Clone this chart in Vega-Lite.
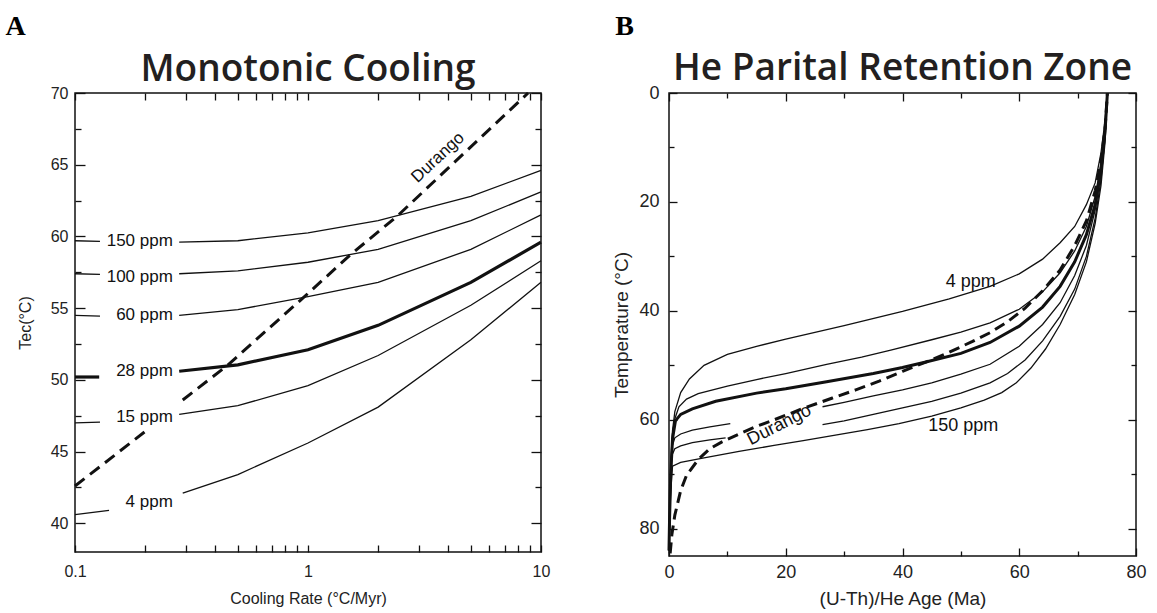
{
  "$schema": "https://vega.github.io/schema/vega-lite/v6.json",
  "padding": {"left": 5, "top": 13, "right": 0, "bottom": 0},
  "background": "white",
  "config": {
    "view": {"stroke": "#111", "strokeWidth": 1.5},
    "font": "Liberation Sans",
    "axis": {"domain": false, "grid": false, "tickColor": "#111", "tickWidth": 1.3, "labelColor": "#222", "titleColor": "#222", "titleFontWeight": "normal", "labelFont": "Liberation Sans", "titleFont": "Liberation Sans", "labelFlush": false, "labelOverlap": false}
  },
  "datasets": {
    "A": [
      {"s":"150 ppm","g":"a","x":0.1,"y":59.7},{"s":"150 ppm","g":"a","x":0.128,"y":59.65},
      {"s":"150 ppm","g":"b","x":0.28,"y":59.6},{"s":"150 ppm","g":"b","x":0.5,"y":59.7},{"s":"150 ppm","g":"b","x":1,"y":60.25},{"s":"150 ppm","g":"b","x":2,"y":61.1},{"s":"150 ppm","g":"b","x":5,"y":62.8},{"s":"150 ppm","g":"b","x":10,"y":64.6},
      {"s":"100 ppm","g":"a","x":0.1,"y":57.4},{"s":"100 ppm","g":"a","x":0.128,"y":57.35},
      {"s":"100 ppm","g":"b","x":0.28,"y":57.4},{"s":"100 ppm","g":"b","x":0.5,"y":57.6},{"s":"100 ppm","g":"b","x":1,"y":58.2},{"s":"100 ppm","g":"b","x":2,"y":59.1},{"s":"100 ppm","g":"b","x":5,"y":61.1},{"s":"100 ppm","g":"b","x":10,"y":63.1},
      {"s":"60 ppm","g":"a","x":0.1,"y":54.5},{"s":"60 ppm","g":"a","x":0.128,"y":54.45},
      {"s":"60 ppm","g":"b","x":0.28,"y":54.5},{"s":"60 ppm","g":"b","x":0.5,"y":54.9},{"s":"60 ppm","g":"b","x":1,"y":55.8},{"s":"60 ppm","g":"b","x":2,"y":56.8},{"s":"60 ppm","g":"b","x":5,"y":59.1},{"s":"60 ppm","g":"b","x":10,"y":61.5},
      {"s":"28 ppm","g":"a","x":0.1,"y":50.2},{"s":"28 ppm","g":"a","x":0.127,"y":50.2},
      {"s":"28 ppm","g":"b","x":0.28,"y":50.6},{"s":"28 ppm","g":"b","x":0.5,"y":51.05},{"s":"28 ppm","g":"b","x":1,"y":52.1},{"s":"28 ppm","g":"b","x":2,"y":53.8},{"s":"28 ppm","g":"b","x":5,"y":56.8},{"s":"28 ppm","g":"b","x":10,"y":59.6},
      {"s":"15 ppm","g":"a","x":0.1,"y":47.0},{"s":"15 ppm","g":"a","x":0.128,"y":47.05},
      {"s":"15 ppm","g":"b","x":0.28,"y":47.6},{"s":"15 ppm","g":"b","x":0.5,"y":48.2},{"s":"15 ppm","g":"b","x":1,"y":49.6},{"s":"15 ppm","g":"b","x":2,"y":51.7},{"s":"15 ppm","g":"b","x":5,"y":55.2},{"s":"15 ppm","g":"b","x":10,"y":58.3},
      {"s":"4 ppm","g":"a","x":0.1,"y":40.6},{"s":"4 ppm","g":"a","x":0.14,"y":40.9},
      {"s":"4 ppm","g":"b","x":0.29,"y":42.1},{"s":"4 ppm","g":"b","x":0.5,"y":43.4},{"s":"4 ppm","g":"b","x":1,"y":45.6},{"s":"4 ppm","g":"b","x":2,"y":48.1},{"s":"4 ppm","g":"b","x":5,"y":52.8},{"s":"4 ppm","g":"b","x":10,"y":56.8},
      {"s":"Durango","g":"a","x":0.1,"y":42.6},{"s":"Durango","g":"a","x":0.2,"y":46.4},
      {"s":"Durango","g":"b","x":0.29,"y":48.6},{"s":"Durango","g":"b","x":0.45,"y":51.0},{"s":"Durango","g":"b","x":0.95,"y":55.7},{"s":"Durango","g":"b","x":1.54,"y":58.8},{"s":"Durango","g":"b","x":2.41,"y":61.4},{"s":"Durango","g":"b","x":8.8,"y":70}
    ],
    "Alab": [
      {"t":"150 ppm","x":0.263,"y":59.7},{"t":"100 ppm","x":0.263,"y":57.2},{"t":"60 ppm","x":0.263,"y":54.5},
      {"t":"28 ppm","x":0.263,"y":50.6},{"t":"15 ppm","x":0.263,"y":47.4},{"t":"4 ppm","x":0.263,"y":41.5}
    ],
    "Adur": [{"t":"Durango","x":3.61,"y":65.5}],
    "B": [
      {"s":"4 ppm","g":"a","x":0,"y":84},{"s":"4 ppm","g":"a","x":0.1,"y":78},{"s":"4 ppm","g":"a","x":0.3,"y":68},{"s":"4 ppm","g":"a","x":0.6,"y":62},{"s":"4 ppm","g":"a","x":1,"y":58.5},{"s":"4 ppm","g":"a","x":2,"y":55},{"s":"4 ppm","g":"a","x":3.5,"y":52.5},{"s":"4 ppm","g":"a","x":6,"y":50},{"s":"4 ppm","g":"a","x":10,"y":48},{"s":"4 ppm","g":"a","x":15,"y":46.5},{"s":"4 ppm","g":"a","x":20,"y":45.2},{"s":"4 ppm","g":"a","x":30,"y":42.7},{"s":"4 ppm","g":"a","x":40,"y":40.1},{"s":"4 ppm","g":"a","x":48,"y":37.8},{"s":"4 ppm","g":"a","x":55,"y":35.5},{"s":"4 ppm","g":"a","x":60,"y":33.2},{"s":"4 ppm","g":"a","x":64,"y":30.5},{"s":"4 ppm","g":"a","x":67,"y":27.5},{"s":"4 ppm","g":"a","x":69.5,"y":24.5},{"s":"4 ppm","g":"a","x":71.5,"y":20.5},{"s":"4 ppm","g":"a","x":73,"y":16.5},{"s":"4 ppm","g":"a","x":74,"y":11},{"s":"4 ppm","g":"a","x":74.6,"y":6},{"s":"4 ppm","g":"a","x":75.1,"y":0},
      {"s":"15 ppm","g":"a","x":0,"y":84},{"s":"15 ppm","g":"a","x":0.1,"y":78},{"s":"15 ppm","g":"a","x":0.3,"y":69},{"s":"15 ppm","g":"a","x":0.6,"y":62.5},{"s":"15 ppm","g":"a","x":1,"y":59.8},{"s":"15 ppm","g":"a","x":1.7,"y":57.6},{"s":"15 ppm","g":"a","x":3,"y":56.2},{"s":"15 ppm","g":"a","x":5,"y":55.2},{"s":"15 ppm","g":"a","x":10,"y":53.8},{"s":"15 ppm","g":"a","x":15,"y":52.6},{"s":"15 ppm","g":"a","x":20,"y":51.5},{"s":"15 ppm","g":"a","x":27,"y":49.8},{"s":"15 ppm","g":"a","x":33,"y":48.5},{"s":"15 ppm","g":"a","x":38,"y":47.2},{"s":"15 ppm","g":"a","x":45,"y":45.3},{"s":"15 ppm","g":"a","x":50,"y":43.9},{"s":"15 ppm","g":"a","x":55,"y":42.2},{"s":"15 ppm","g":"a","x":60,"y":39.7},{"s":"15 ppm","g":"a","x":64,"y":36.5},{"s":"15 ppm","g":"a","x":67,"y":33},{"s":"15 ppm","g":"a","x":69.5,"y":29},{"s":"15 ppm","g":"a","x":71.5,"y":24.5},{"s":"15 ppm","g":"a","x":73,"y":19},{"s":"15 ppm","g":"a","x":74,"y":13},{"s":"15 ppm","g":"a","x":74.7,"y":6.5},{"s":"15 ppm","g":"a","x":75.1,"y":0},
      {"s":"28 ppm","g":"a","x":0,"y":84},{"s":"28 ppm","g":"a","x":0.1,"y":78},{"s":"28 ppm","g":"a","x":0.3,"y":70},{"s":"28 ppm","g":"a","x":0.6,"y":63.5},{"s":"28 ppm","g":"a","x":1.1,"y":60.2},{"s":"28 ppm","g":"a","x":2,"y":59},{"s":"28 ppm","g":"a","x":4,"y":58},{"s":"28 ppm","g":"a","x":8,"y":56.6},{"s":"28 ppm","g":"a","x":15,"y":55.1},{"s":"28 ppm","g":"a","x":20,"y":54.3},{"s":"28 ppm","g":"a","x":27,"y":53},{"s":"28 ppm","g":"a","x":35,"y":51.5},{"s":"28 ppm","g":"a","x":40,"y":50.4},{"s":"28 ppm","g":"a","x":44,"y":49.4},{"s":"28 ppm","g":"a","x":50,"y":47.8},{"s":"28 ppm","g":"a","x":55,"y":45.8},{"s":"28 ppm","g":"a","x":60,"y":42.8},{"s":"28 ppm","g":"a","x":64,"y":39.3},{"s":"28 ppm","g":"a","x":67,"y":35.5},{"s":"28 ppm","g":"a","x":69.5,"y":31},{"s":"28 ppm","g":"a","x":71.5,"y":26},{"s":"28 ppm","g":"a","x":73,"y":20.5},{"s":"28 ppm","g":"a","x":74,"y":14},{"s":"28 ppm","g":"a","x":74.7,"y":7},{"s":"28 ppm","g":"a","x":75.1,"y":0},
      {"s":"60 ppm","g":"a","x":0,"y":84},{"s":"60 ppm","g":"a","x":0.1,"y":78},{"s":"60 ppm","g":"a","x":0.3,"y":70.5},{"s":"60 ppm","g":"a","x":0.5,"y":65},{"s":"60 ppm","g":"a","x":1,"y":63.3},{"s":"60 ppm","g":"a","x":2,"y":62.6},{"s":"60 ppm","g":"a","x":4,"y":61.9},{"s":"60 ppm","g":"a","x":7,"y":61.3},{"s":"60 ppm","g":"a","x":10.5,"y":60.7},
      {"s":"60 ppm","g":"b","x":26.3,"y":57.6},{"s":"60 ppm","g":"b","x":30,"y":56.8},{"s":"60 ppm","g":"b","x":35,"y":55.6},{"s":"60 ppm","g":"b","x":40,"y":54.5},{"s":"60 ppm","g":"b","x":45,"y":53.2},{"s":"60 ppm","g":"b","x":50,"y":51.6},{"s":"60 ppm","g":"b","x":55,"y":49.8},{"s":"60 ppm","g":"b","x":60,"y":46.5},{"s":"60 ppm","g":"b","x":64,"y":42.5},{"s":"60 ppm","g":"b","x":67,"y":38.5},{"s":"60 ppm","g":"b","x":69.5,"y":33.5},{"s":"60 ppm","g":"b","x":71.5,"y":28},{"s":"60 ppm","g":"b","x":73,"y":21.5},{"s":"60 ppm","g":"b","x":74,"y":15},{"s":"60 ppm","g":"b","x":74.7,"y":7.5},{"s":"60 ppm","g":"b","x":75.1,"y":0},
      {"s":"100 ppm","g":"a","x":0,"y":84},{"s":"100 ppm","g":"a","x":0.1,"y":78.5},{"s":"100 ppm","g":"a","x":0.3,"y":72},{"s":"100 ppm","g":"a","x":0.5,"y":66.5},{"s":"100 ppm","g":"a","x":1,"y":65.3},{"s":"100 ppm","g":"a","x":2,"y":64.8},{"s":"100 ppm","g":"a","x":4,"y":64.2},{"s":"100 ppm","g":"a","x":7,"y":63.7},{"s":"100 ppm","g":"a","x":9.7,"y":63.3},
      {"s":"100 ppm","g":"b","x":26.3,"y":60.9},{"s":"100 ppm","g":"b","x":30,"y":60.2},{"s":"100 ppm","g":"b","x":35,"y":59},{"s":"100 ppm","g":"b","x":40,"y":57.8},{"s":"100 ppm","g":"b","x":45,"y":56.6},{"s":"100 ppm","g":"b","x":50,"y":55.1},{"s":"100 ppm","g":"b","x":55,"y":53.2},{"s":"100 ppm","g":"b","x":58,"y":51.5},{"s":"100 ppm","g":"b","x":61,"y":49},{"s":"100 ppm","g":"b","x":64,"y":45.5},{"s":"100 ppm","g":"b","x":67,"y":41},{"s":"100 ppm","g":"b","x":69.5,"y":36},{"s":"100 ppm","g":"b","x":71.5,"y":30},{"s":"100 ppm","g":"b","x":73,"y":23},{"s":"100 ppm","g":"b","x":74,"y":16},{"s":"100 ppm","g":"b","x":74.7,"y":8},{"s":"100 ppm","g":"b","x":75.1,"y":0},
      {"s":"150 ppm","g":"a","x":0,"y":84},{"s":"150 ppm","g":"a","x":0.1,"y":79},{"s":"150 ppm","g":"a","x":0.3,"y":73},{"s":"150 ppm","g":"a","x":0.6,"y":68.5},{"s":"150 ppm","g":"a","x":2,"y":67.8},{"s":"150 ppm","g":"a","x":6,"y":67},{"s":"150 ppm","g":"a","x":12,"y":65.8},{"s":"150 ppm","g":"a","x":18,"y":64.7},{"s":"150 ppm","g":"a","x":23,"y":63.8},{"s":"150 ppm","g":"a","x":29,"y":62.7},{"s":"150 ppm","g":"a","x":34,"y":61.8},{"s":"150 ppm","g":"a","x":39.4,"y":60.7},{"s":"150 ppm","g":"a","x":45,"y":59.3},{"s":"150 ppm","g":"a","x":50,"y":57.8},{"s":"150 ppm","g":"a","x":54,"y":56.4},{"s":"150 ppm","g":"a","x":57,"y":55},{"s":"150 ppm","g":"a","x":59.5,"y":53.2},{"s":"150 ppm","g":"a","x":62,"y":50.5},{"s":"150 ppm","g":"a","x":64.5,"y":47},{"s":"150 ppm","g":"a","x":67,"y":42.5},{"s":"150 ppm","g":"a","x":69.5,"y":37},{"s":"150 ppm","g":"a","x":71.5,"y":31},{"s":"150 ppm","g":"a","x":73,"y":24},{"s":"150 ppm","g":"a","x":74,"y":17},{"s":"150 ppm","g":"a","x":74.7,"y":9},{"s":"150 ppm","g":"a","x":75.1,"y":0},
      {"s":"Durango","g":"a","x":0.2,"y":84.5},{"s":"Durango","g":"a","x":0.5,"y":81},{"s":"Durango","g":"a","x":1,"y":77.5},{"s":"Durango","g":"a","x":2,"y":73},{"s":"Durango","g":"a","x":3,"y":70.2},{"s":"Durango","g":"a","x":5,"y":67.3},{"s":"Durango","g":"a","x":7,"y":65.3},{"s":"Durango","g":"a","x":9,"y":64.1},{"s":"Durango","g":"a","x":12,"y":62.6},{"s":"Durango","g":"a","x":15,"y":61.2},{"s":"Durango","g":"a","x":18,"y":60},{"s":"Durango","g":"a","x":23,"y":57.9},{"s":"Durango","g":"a","x":28,"y":56},{"s":"Durango","g":"a","x":32,"y":54.5},{"s":"Durango","g":"a","x":36,"y":52.9},{"s":"Durango","g":"a","x":40,"y":51.1},{"s":"Durango","g":"a","x":44,"y":49.4},{"s":"Durango","g":"a","x":48,"y":47.6},{"s":"Durango","g":"a","x":52,"y":45.6},{"s":"Durango","g":"a","x":55,"y":44},{"s":"Durango","g":"a","x":58,"y":42},{"s":"Durango","g":"a","x":61,"y":39.5},{"s":"Durango","g":"a","x":64,"y":36.3},{"s":"Durango","g":"a","x":67,"y":32.5},{"s":"Durango","g":"a","x":69.5,"y":28},{"s":"Durango","g":"a","x":71.5,"y":23.5},{"s":"Durango","g":"a","x":73,"y":18},{"s":"Durango","g":"a","x":74,"y":12.5},{"s":"Durango","g":"a","x":74.7,"y":6.5},{"s":"Durango","g":"a","x":75.1,"y":0}
    ],
    "Blab": [{"t":"4 ppm","x":51.7,"y":34.7},{"t":"150 ppm","x":50.4,"y":61.2}],
    "Bdur": [{"t":"Durango","x":18.9,"y":61.0}]
  },
  "spacing": 61,
  "hconcat": [
    {
      "title": {"text": "A", "anchor": "start", "frame": "bounds", "font": "Liberation Serif", "fontSize": 28, "fontWeight": "bold", "color": "#000", "dx": -11, "offset": 9},
      "vconcat": [
        {
          "title": {"text": "Monotonic Cooling", "anchor": "middle", "font": "Open Sans", "fontSize": 37, "fontWeight": 600, "color": "#231f20", "offset": -4},
          "width": 466,
          "height": 459,
          "data": {"name": "A"},
          "resolve": {"axis": {"x": "independent", "y": "independent"}},
          "layer": [
            {
              "transform": [{"filter": "datum.s != '28 ppm' && datum.s != 'Durango'"}],
              "mark": {"type": "line", "stroke": "#111", "strokeWidth": 1.3},
              "encoding": {
                "x": {"field": "x", "type": "quantitative", "scale": {"type": "log", "domain": [0.1, 10]},
                  "axis": {"orient": "bottom", "values": [0.1,0.2,0.3,0.4,0.5,0.6,0.7,0.8,0.9,1,2,3,4,5,6,7,8,9,10], "labelExpr": "datum.value == 0.1 ? '0.1' : (datum.value == 1 ? '1' : (datum.value == 10 ? '10' : ''))", "tickSize": -7, "labelPadding": 18, "labelFontSize": 16, "title": "Cooling Rate (°C/Myr)", "titleFontSize": 16, "titlePadding": 11}},
                "y": {"field": "y", "type": "quantitative", "scale": {"domain": [38, 70], "zero": false, "nice": false},
                  "axis": {"orient": "left", "values": [40,42.5,45,47.5,50,52.5,55,57.5,60,62.5,65,67.5,70], "format": "d", "labelExpr": "datum.value % 5 == 0 ? datum.label : ''", "tickSize": {"condition": {"test": "datum.value % 5 == 0", "value": -10}, "value": -6}, "labelPadding": 17, "labelFontSize": 16, "title": "Tec(°C)", "titleFontSize": 16, "titlePadding": 17}},
                "detail": [{"field": "s"}, {"field": "g"}]
              }
            },
            {
              "transform": [{"filter": "datum.s == 'Durango'"}],
              "mark": {"type": "line", "stroke": "#111", "strokeWidth": 3, "strokeDash": [12, 7]},
              "encoding": {
                "x": {"field": "x", "type": "quantitative", "scale": {"type": "log", "domain": [0.1, 10]},
                  "axis": {"orient": "top", "values": [0.1,0.2,0.3,0.4,0.5,0.6,0.7,0.8,0.9,1,2,3,4,5,6,7,8,9,10], "labels": false, "tickSize": -7, "title": null, "minExtent": 0, "maxExtent": 0, "labelPadding": 0, "titlePadding": 0}},
                "y": {"field": "y", "type": "quantitative", "scale": {"domain": [38, 70], "zero": false, "nice": false},
                  "axis": {"orient": "right", "values": [40,42.5,45,47.5,50,52.5,55,57.5,60,62.5,65,67.5,70], "labels": false, "tickSize": {"condition": {"test": "datum.value % 5 == 0", "value": -10}, "value": -6}, "title": null, "minExtent": 0, "maxExtent": 0, "labelPadding": 0, "titlePadding": 0}},
                "detail": {"field": "g"}
              }
            },
            {
              "transform": [{"filter": "datum.s == '28 ppm'"}],
              "mark": {"type": "line", "stroke": "#111", "strokeWidth": 3.2},
              "encoding": {
                "x": {"field": "x", "type": "quantitative", "axis": null},
                "y": {"field": "y", "type": "quantitative", "axis": null},
                "detail": {"field": "g"}
              }
            },
            {
              "data": {"name": "Alab"},
              "mark": {"type": "text", "align": "right", "baseline": "middle", "fontSize": 17, "font": "Liberation Sans", "color": "#111"},
              "encoding": {
                "x": {"field": "x", "type": "quantitative", "axis": null},
                "y": {"field": "y", "type": "quantitative", "axis": null},
                "text": {"field": "t"}
              }
            },
            {
              "data": {"name": "Adur"},
              "mark": {"type": "text", "align": "center", "baseline": "middle", "fontSize": 17, "font": "Liberation Sans", "color": "#111", "angle": 317},
              "encoding": {
                "x": {"field": "x", "type": "quantitative", "axis": null},
                "y": {"field": "y", "type": "quantitative", "axis": null},
                "text": {"field": "t"}
              }
            }
          ]
        }
      ]
    },
    {
      "title": {"text": "B", "anchor": "start", "frame": "bounds", "font": "Liberation Serif", "fontSize": 28, "fontWeight": "bold", "color": "#000", "dx": 3, "offset": 8},
      "vconcat": [
        {
          "title": {"text": "He Parital Retention Zone", "anchor": "middle", "font": "Open Sans", "fontSize": 37, "fontWeight": 600, "color": "#231f20", "offset": -4},
          "width": 467,
          "height": 463,
          "data": {"name": "B"},
          "resolve": {"axis": {"x": "independent", "y": "independent"}},
          "layer": [
            {
              "transform": [{"filter": "datum.s != '28 ppm' && datum.s != 'Durango'"}],
              "mark": {"type": "line", "stroke": "#111", "strokeWidth": 1.3},
              "encoding": {
                "x": {"field": "x", "type": "quantitative", "scale": {"domain": [0, 80], "nice": false},
                  "axis": {"orient": "bottom", "values": [0,10,20,30,40,50,60,70,80], "labelExpr": "datum.value % 20 == 0 ? datum.label : ''", "tickSize": {"condition": {"test": "datum.value % 20 == 0", "value": -8}, "value": -5}, "labelPadding": 15, "labelFontSize": 18, "title": "(U-Th)/He Age (Ma)", "titleFontSize": 19, "titlePadding": 5}},
                "y": {"field": "y", "type": "quantitative", "scale": {"domain": [0, 85], "nice": false, "reverse": true},
                  "axis": {"orient": "left", "values": [0,10,20,30,40,50,60,70,80], "labelExpr": "datum.value % 20 == 0 ? datum.label : ''", "tickSize": {"condition": {"test": "datum.value % 20 == 0", "value": -8}, "value": -5}, "labelPadding": 18, "labelFontSize": 18, "title": "Temperature (°C)", "titleFontSize": 19, "titlePadding": 7}},
                "detail": [{"field": "s"}, {"field": "g"}]
              }
            },
            {
              "transform": [{"filter": "datum.s == 'Durango'"}],
              "mark": {"type": "line", "stroke": "#111", "strokeWidth": 3, "strokeDash": [11, 6]},
              "encoding": {
                "x": {"field": "x", "type": "quantitative", "scale": {"domain": [0, 80], "nice": false},
                  "axis": {"orient": "top", "values": [0,10,20,30,40,50,60,70,80], "labels": false, "tickSize": {"condition": {"test": "datum.value % 20 == 0", "value": -8}, "value": -5}, "title": null, "minExtent": 0, "maxExtent": 0, "labelPadding": 0, "titlePadding": 0}},
                "y": {"field": "y", "type": "quantitative", "scale": {"domain": [0, 85], "nice": false, "reverse": true},
                  "axis": {"orient": "right", "values": [0,10,20,30,40,50,60,70,80], "labels": false, "tickSize": {"condition": {"test": "datum.value % 20 == 0", "value": -8}, "value": -5}, "title": null, "minExtent": 0, "maxExtent": 0, "labelPadding": 0, "titlePadding": 0}}
              }
            },
            {
              "transform": [{"filter": "datum.s == '28 ppm'"}],
              "mark": {"type": "line", "stroke": "#111", "strokeWidth": 3},
              "encoding": {
                "x": {"field": "x", "type": "quantitative", "axis": null},
                "y": {"field": "y", "type": "quantitative", "axis": null}
              }
            },
            {
              "data": {"name": "Blab"},
              "mark": {"type": "text", "align": "center", "baseline": "middle", "fontSize": 18, "font": "Liberation Sans", "color": "#111"},
              "encoding": {
                "x": {"field": "x", "type": "quantitative", "axis": null},
                "y": {"field": "y", "type": "quantitative", "axis": null},
                "text": {"field": "t"}
              }
            },
            {
              "data": {"name": "Bdur"},
              "mark": {"type": "text", "align": "center", "baseline": "middle", "fontSize": 18, "font": "Liberation Sans", "color": "#111", "angle": 333},
              "encoding": {
                "x": {"field": "x", "type": "quantitative", "axis": null},
                "y": {"field": "y", "type": "quantitative", "axis": null},
                "text": {"field": "t"}
              }
            }
          ]
        }
      ]
    }
  ]
}
